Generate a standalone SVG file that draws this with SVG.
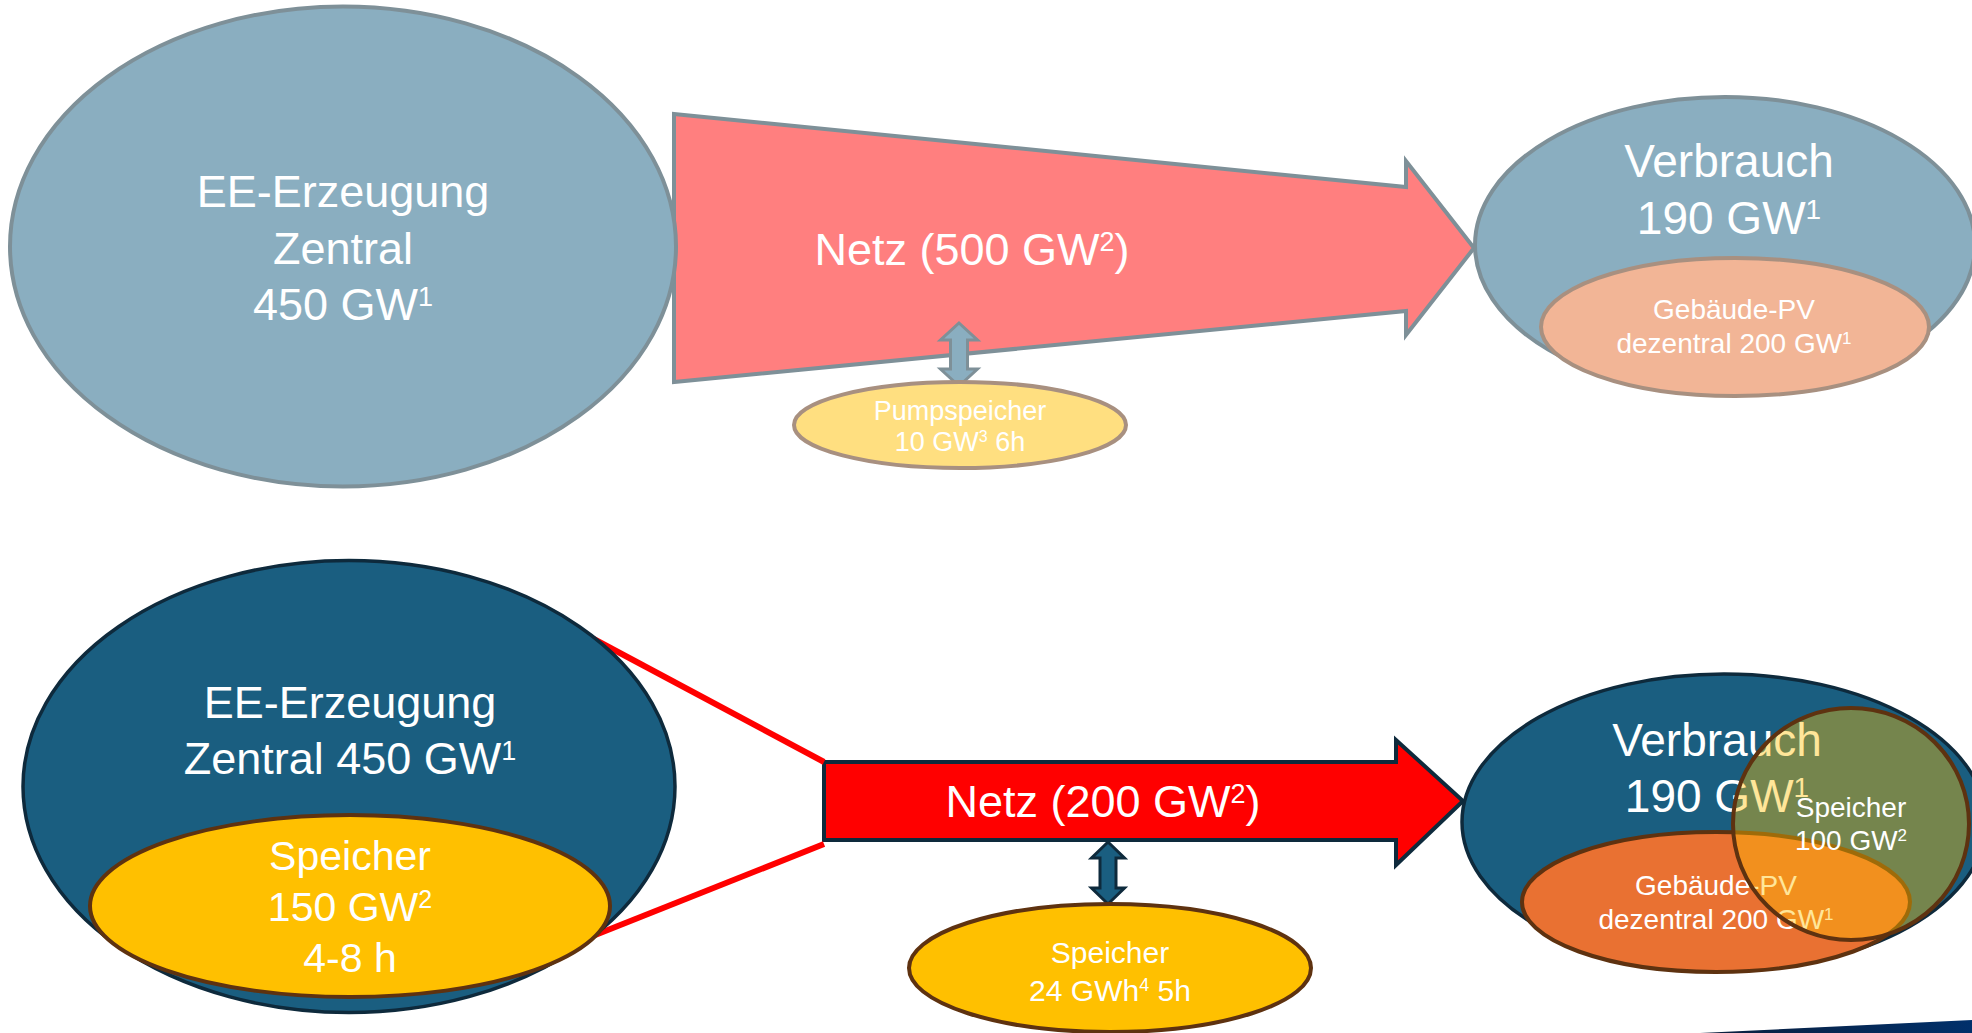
<svg xmlns="http://www.w3.org/2000/svg" width="1972" height="1033" viewBox="0 0 1972 1033">
  <defs>
    <linearGradient id="cornerBar" x1="0" y1="0" x2="1" y2="0">
      <stop offset="0" stop-color="#0B1E3B"/>
      <stop offset="1" stop-color="#00306B"/>
    </linearGradient>
  </defs>
  <style>
    text { font-family: "Liberation Sans", Arial, sans-serif; fill: #FFFFFF; text-anchor: middle; }
    .pale { fill: #8AAEC0; stroke: #7E9098; stroke-width: 4; }
    .paleNet { fill: #FF7F7F; stroke: #7E9098; stroke-width: 4; stroke-linejoin: miter; }
    .paleStore { fill: #FFDF80; stroke: #A89080; stroke-width: 4; }
    .palePV { fill: #F2B596; stroke: #A89080; stroke-width: 4; }
    .deep { fill: #1A5E80; stroke: #0E2A3C; stroke-width: 3.5; }
    .deepNet { fill: #FF0000; stroke: #0E2A3C; stroke-width: 4; }
    .gold { fill: #FFC000; stroke: #5E3210; stroke-width: 4; }
    .pv { fill: #E97132; stroke: #5E3210; stroke-width: 4; }
    .overlay { fill: #FFC000; fill-opacity: 0.4; stroke: #5E3210; stroke-width: 4; }
    .link { stroke: #FF0000; stroke-width: 6; fill: none; }
  </style>

  <!-- grid arrows (labelled) -->
  <g id="netz-heute">
    <path class="paleNet" d="M674,114 L1406,187 L1406,161 L1474,248 L1406,335 L1406,311 L674,382 Z"/>
    <text x="972" y="265" font-size="45">Netz (500 GW<tspan font-size="27" dy="-14">2</tspan><tspan dy="14">)</tspan></text>
  </g>
  <g id="netz-zukunft">
    <path class="deepNet" d="M824,762 L1396,762 L1396,740 L1463,801 L1396,865 L1396,840 L824,840 Z"/>
    <text x="1103" y="817" font-size="45">Netz (200 GW<tspan font-size="27" dy="-14">2</tspan><tspan dy="14">)</tspan></text>
  </g>

  <!-- connectors -->
  <g id="connectors">
    <line class="link" x1="560" y1="621" x2="824" y2="762"/>
    <line class="link" x1="560" y1="949" x2="824" y2="844"/>
    <path fill="#8AAEC0" stroke="#7E9098" stroke-width="3" d="M959,323 L977.5,340 L967.5,340 L967.5,369 L977.5,369 L959,386 L940.5,369 L950.5,369 L950.5,340 L940.5,340 Z"/>
    <path fill="#1A5E80" stroke="#0E2A3C" stroke-width="3" d="M1108,842 L1124.5,858 L1116,858 L1116,888 L1124.5,888 L1108,904 L1091.5,888 L1100,888 L1100,858 L1091.5,858 Z"/>
  </g>

  <!-- today: generation, pumped storage, consumption -->
  <g id="erzeugung-heute">
    <ellipse class="pale" cx="343" cy="246.5" rx="333" ry="240"/>
    <text x="343" y="207" font-size="45">EE-Erzeugung</text>
    <text x="343" y="264" font-size="45">Zentral</text>
    <text x="343" y="320" font-size="45">450 GW<tspan font-size="27" dy="-14">1</tspan></text>
  </g>
  <g id="pumpspeicher">
    <ellipse class="paleStore" cx="960" cy="425" rx="166" ry="43"/>
    <text x="960" y="420" font-size="27">Pumpspeicher</text>
    <text x="960" y="451" font-size="27">10 GW<tspan font-size="16" dy="-9">3</tspan><tspan dy="9"> 6h</tspan></text>
  </g>
  <g id="verbrauch-heute">
    <ellipse class="pale" cx="1725" cy="245" rx="250" ry="148"/>
    <text x="1729" y="177" font-size="46">Verbrauch</text>
    <text x="1729" y="234" font-size="46">190 GW<tspan font-size="28" dy="-15">1</tspan></text>
  </g>
  <g id="gebaeude-pv-heute">
    <ellipse class="palePV" cx="1735" cy="327" rx="194" ry="69"/>
    <text x="1734" y="319" font-size="28">Gebäude-PV</text>
    <text x="1734" y="353" font-size="28">dezentral 200 GW<tspan font-size="17" dy="-9">1</tspan></text>
  </g>

  <!-- future: generation with storage, grid storage, consumption -->
  <g id="erzeugung-zukunft">
    <ellipse class="deep" cx="349" cy="786.5" rx="326" ry="226"/>
    <text x="350" y="718" font-size="45">EE-Erzeugung</text>
    <text x="350" y="774" font-size="45">Zentral 450 GW<tspan font-size="27" dy="-14">1</tspan></text>
  </g>
  <g id="speicher-erzeugung">
    <ellipse class="gold" cx="350" cy="906" rx="260" ry="91"/>
    <text x="350" y="870" font-size="41">Speicher</text>
    <text x="350" y="921" font-size="41">150 GW<tspan font-size="25" dy="-13">2</tspan></text>
    <text x="350" y="972" font-size="41">4-8 h</text>
  </g>
  <g id="speicher-netz">
    <ellipse class="gold" cx="1110" cy="968" rx="201" ry="64"/>
    <text x="1110" y="963" font-size="30">Speicher</text>
    <text x="1110" y="1001" font-size="30">24 GWh<tspan font-size="18" dy="-10">4</tspan><tspan dy="10"> 5h</tspan></text>
  </g>
  <g id="verbrauch-zukunft">
    <ellipse class="deep" cx="1724" cy="822" rx="262" ry="148"/>
    <text x="1717" y="756" font-size="46">Verbrauch</text>
    <text x="1717" y="812" font-size="46">190 GW<tspan font-size="28" dy="-15">1</tspan></text>
  </g>
  <g id="gebaeude-pv-zukunft">
    <ellipse class="pv" cx="1716" cy="902" rx="194" ry="70"/>
    <text x="1716" y="895" font-size="28">Gebäude-PV</text>
    <text x="1716" y="929" font-size="28">dezentral 200 GW<tspan font-size="17" dy="-9">1</tspan></text>
  </g>
  <g id="speicher-verbrauch">
    <ellipse class="overlay" cx="1851" cy="824" rx="118" ry="116"/>
    <text x="1851" y="817" font-size="28">Speicher</text>
    <text x="1851" y="850" font-size="28">100 GW<tspan font-size="17" dy="-9">2</tspan></text>
  </g>

  <!-- corner bar -->
  <polygon points="1700,1033 1972,1020 1972,1033" fill="url(#cornerBar)"/>
</svg>
